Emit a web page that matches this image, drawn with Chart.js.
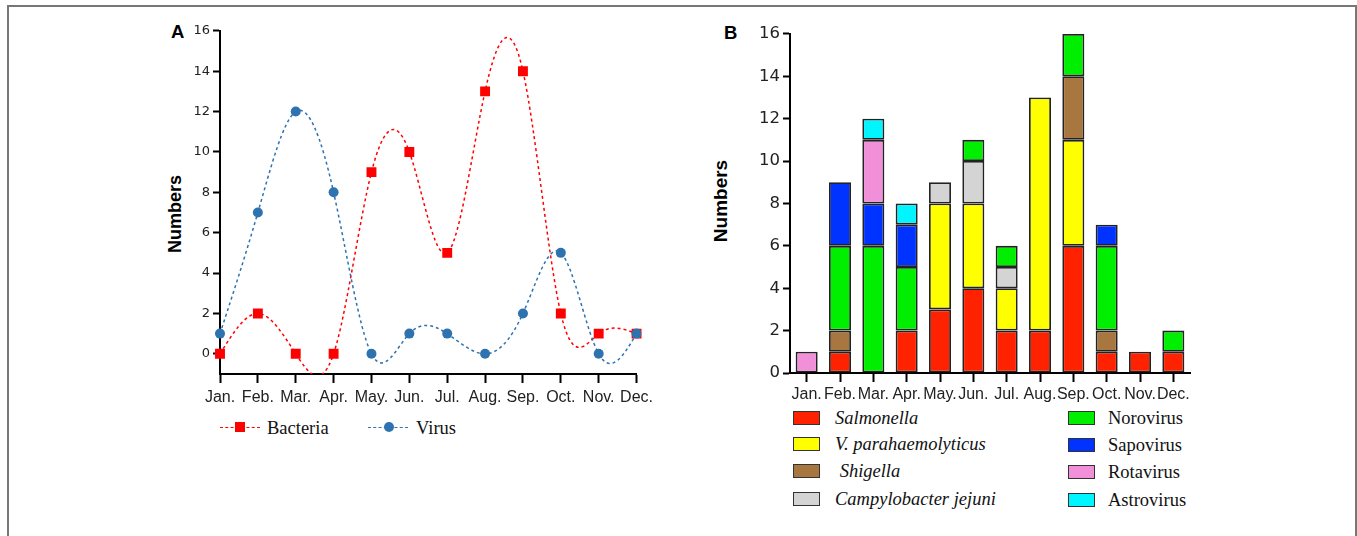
<!DOCTYPE html>
<html lang="en">
  <head>
    <meta charset="UTF-8" />
    <title>Monthly bacteria and virus numbers</title>
    <script src="https://cdn.jsdelivr.net/npm/chart.js"></script>
    <style>
      body { margin: 0; width: 1357px; height: 536px; overflow: hidden; background: #fff; position: relative; font-family: 'Liberation Sans', Arial, sans-serif; }
      .frame { position: absolute; left: 7px; top: 5px; width: 1346px; height: 540px; border: 2px solid #777; }
      .box { position: absolute; }
      .panel { position: absolute; font-weight: bold; color: #000; line-height: 1; }
      .ytitle { position: absolute; font-weight: bold; white-space: nowrap; transform: translate(-50%, -50%) rotate(-90deg); line-height: 1; }
      .leg { position: absolute; font-family: 'Liberation Serif', 'Times New Roman', serif; font-size: 18.5px; line-height: 1; white-space: nowrap; transform: translateY(-50%); color: #111; }
      .sw { position: absolute; width: 25px; height: 12px; border: 1.5px solid #333; transform: translateY(-50%); }
      .dash { position: absolute; width: 40px; border-top: 1.5px dashed; }
    </style>
  </head>

  <body>
    <div class="frame"></div>

    <div class="panel" style="left: 171px; top: 23px; font-size: 18.5px">A</div>
    <div class="panel" style="left: 724px; top: 24px; font-size: 18.5px">B</div>
    <div class="ytitle" style="left: 175px; top: 214px; font-size: 18px">Numbers</div>
    <div class="ytitle" style="left: 720px; top: 201px; font-size: 19px">Numbers</div>

    <div class="box" style="left: 150px; top: 20px; width: 508px; height: 394px">
      <canvas id="lineChart"></canvas>
    </div>
    <div class="box" style="left: 700px; top: 21px; width: 510px; height: 382px">
      <canvas id="barChart"></canvas>
    </div>

    <!-- legend A -->
    <div class="dash" style="left: 220px; top: 427px; border-color: #ff0000"></div>
    <div class="box" style="left: 235px; top: 422px; width: 10px; height: 10px; background: #ff0000"></div>
    <div class="leg" style="left: 267px; top: 428px">Bacteria</div>
    <div class="dash" style="left: 368px; top: 427px; border-color: #2e72b0"></div>
    <div class="box" style="left: 384px; top: 422px; width: 10px; height: 10px; border-radius: 50%; background: #2e72b0"></div>
    <div class="leg" style="left: 416px; top: 428px">Virus</div>

    <!-- legend B -->
    <div id="legendB"></div>

    <script>
      const months = ['Jan.', 'Feb.', 'Mar.', 'Apr.', 'May.', 'Jun.', 'Jul.', 'Aug.', 'Sep.', 'Oct.', 'Nov.', 'Dec.'];

      // panel A
      const bacteria = [0, 2, 0, 0, 9, 10, 5, 13, 14, 2, 1, 1];
      const virus = [1, 7, 12, 8, 0, 1, 1, 0, 2, 5, 0, 1];
      const yTicksA = [0, 2, 4, 6, 8, 10, 12, 14, 16];

      // panel B
      const salmonella = [0, 1, 0, 2, 3, 4, 2, 2, 6, 1, 1, 1];
      const vParahaemolyticus = [0, 0, 0, 0, 5, 4, 2, 11, 5, 0, 0, 0];
      const shigella = [0, 1, 0, 0, 0, 0, 0, 0, 3, 1, 0, 0];
      const campylobacter = [0, 0, 0, 0, 1, 2, 1, 0, 0, 0, 0, 0];
      const norovirus = [0, 4, 6, 3, 0, 1, 1, 0, 2, 4, 0, 1];
      const sapovirus = [0, 3, 2, 2, 0, 0, 0, 0, 0, 1, 0, 0];
      const rotavirus = [1, 0, 3, 0, 0, 0, 0, 0, 0, 0, 0, 0];
      const astrovirus = [0, 0, 1, 1, 0, 0, 0, 0, 0, 0, 0, 0];

      const seriesB = [
        { name: 'Salmonella', data: salmonella, color: '#ff2200', italic: true },
        { name: 'V. parahaemolyticus', data: vParahaemolyticus, color: '#ffff00', italic: true },
        { name: '\u00a0Shigella', data: shigella, color: '#a8773f', italic: true },
        { name: 'Campylobacter jejuni', data: campylobacter, color: '#d4d4d4', italic: true },
        { name: 'Norovirus', data: norovirus, color: '#00ee00' },
        { name: 'Sapovirus', data: sapovirus, color: '#0033ff' },
        { name: 'Rotavirus', data: rotavirus, color: '#f190d8' },
        { name: 'Astrovirus', data: astrovirus, color: '#00f5ff' },
      ];

      // slopes of a natural cubic spline through evenly spaced values
      function splineSlopes(ys) {
        const n = ys.length;
        const M = new Array(n).fill(0);
        const c = new Array(n).fill(0);
        const d = new Array(n).fill(0);
        for (let i = 1; i < n - 1; i++) {
          const r = 6 * (ys[i + 1] - 2 * ys[i] + ys[i - 1]);
          const den = 4 - (i > 1 ? c[i - 1] : 0);
          c[i] = 1 / den;
          d[i] = (r - (i > 1 ? d[i - 1] : 0)) / den;
        }
        for (let i = n - 2; i >= 1; i--) M[i] = d[i] - c[i] * M[i + 1];
        return ys.map((y, i) =>
          i < n - 1
            ? ys[i + 1] - y - (2 * M[i] + M[i + 1]) / 6
            : y - ys[i - 1] + (M[i - 1] + 2 * M[i]) / 6
        );
      }

      const splinePlugin = {
        id: 'spline',
        beforeDatasetsDraw(chart) {
          const { ctx, chartArea: a } = chart;
          const xs = chart.scales.x;
          const ys = chart.scales.y;
          ctx.save();
          ctx.beginPath();
          ctx.rect(a.left, a.top, a.right - a.left, a.bottom - a.top);
          ctx.clip();
          chart.data.datasets.forEach((ds) => {
            const v = ds.data;
            const m = splineSlopes(v);
            ctx.beginPath();
            ctx.moveTo(xs.getPixelForValue(0), ys.getPixelForValue(v[0]));
            for (let i = 0; i < v.length - 1; i++) {
              const x0 = xs.getPixelForValue(i);
              const x1 = xs.getPixelForValue(i + 1);
              ctx.bezierCurveTo(
                x0 + (x1 - x0) / 3, ys.getPixelForValue(v[i] + m[i] / 3),
                x0 + (2 * (x1 - x0)) / 3, ys.getPixelForValue(v[i + 1] - m[i + 1] / 3),
                x1, ys.getPixelForValue(v[i + 1])
              );
            }
            ctx.setLineDash([3, 3]);
            ctx.lineWidth = 1.5;
            ctx.strokeStyle = ds.borderColor;
            ctx.stroke();
          });
          ctx.restore();
        },
      };

      const axisGrid = (len) => ({
        display: true,
        drawOnChartArea: false,
        drawTicks: true,
        tickLength: len,
        tickWidth: 2,
        tickColor: '#000',
        offset: false,
      });
      const axisBorder = { color: '#000', width: 2 };

      new Chart(document.getElementById('lineChart'), {
        type: 'line',
        plugins: [splinePlugin],
        data: {
          labels: months,
          datasets: [
            {
              label: 'Bacteria',
              data: bacteria,
              showLine: false,
              borderColor: '#ff0000',
              backgroundColor: '#ff0000',
              pointStyle: 'rect',
              pointRadius: 7,
              pointBorderWidth: 0,
              order: 1,
            },
            {
              label: 'Virus',
              data: virus,
              showLine: false,
              borderColor: '#2e72b0',
              backgroundColor: '#2e72b0',
              pointStyle: 'circle',
              pointRadius: 5,
              pointBorderWidth: 0,
              order: 0,
            },
          ],
        },
        options: {
          responsive: true,
          maintainAspectRatio: false,
          animation: false,
          events: [],
          layout: { padding: { top: 10, right: 20, bottom: 0, left: 0 } },
          plugins: { legend: { display: false }, tooltip: { enabled: false } },
          scales: {
            x: {
              offset: false,
              grid: axisGrid(9),
              border: axisBorder,
              ticks: {
                autoSkip: false,
                maxRotation: 0,
                padding: 5,
                color: '#222',
                font: { family: "'Liberation Sans', Arial", size: 16 },
              },
              afterFit: (s) => { s.height = 40; },
            },
            y: {
              min: -1,
              max: 16,
              grid: axisGrid(7),
              border: axisBorder,
              afterBuildTicks: (s) => { s.ticks = yTicksA.map((v) => ({ value: v })); },
              ticks: {
                padding: 3,
                color: '#222',
                font: { family: "'DejaVu Sans'", size: 13 },
              },
              afterFit: (s) => { s.width = 70; },
            },
          },
        },
      });

      new Chart(document.getElementById('barChart'), {
        type: 'bar',
        data: {
          labels: months,
          datasets: seriesB.map((s) => ({
            label: s.name,
            data: s.data.map((v) => (v === 0 ? null : v)),
            backgroundColor: s.color,
            borderColor: '#222',
            borderWidth: 1.8,
            borderSkipped: false,
            barPercentage: 0.66,
            categoryPercentage: 1,
          })),
        },
        options: {
          responsive: true,
          maintainAspectRatio: false,
          animation: false,
          events: [],
          layout: { padding: { top: 10, right: 20, bottom: 0, left: 0 } },
          plugins: { legend: { display: false }, tooltip: { enabled: false } },
          scales: {
            x: {
              stacked: true,
              grid: axisGrid(9),
              border: axisBorder,
              ticks: {
                autoSkip: false,
                maxRotation: 0,
                padding: 3,
                color: '#222',
                font: { family: "'Liberation Sans', Arial", size: 16 },
              },
              afterFit: (s) => { s.height = 30; },
            },
            y: {
              stacked: true,
              min: 0,
              max: 16,
              grid: axisGrid(7),
              border: axisBorder,
              ticks: {
                stepSize: 2,
                padding: 3,
                color: '#222',
                font: { family: "'DejaVu Sans'", size: 16.5 },
              },
              afterFit: (s) => { s.width = 90; },
            },
          },
        },
      });

      // legend B, two columns of four
      const legendB = document.getElementById('legendB');
      const rowsY = [[418, 444, 471, 499], [418, 445, 472, 500]];
      seriesB.forEach((s, i) => {
        const col = Math.floor(i / 4);
        const y = rowsY[col][i % 4];
        const sx = col ? 1068 : 793;
        const tx = col ? 1108 : 835;
        const sw = document.createElement('div');
        sw.className = 'sw';
        sw.style.left = sx + 'px';
        sw.style.top = y + 'px';
        sw.style.background = s.color;
        legendB.appendChild(sw);
        const t = document.createElement('div');
        t.className = 'leg';
        t.style.left = tx + 'px';
        t.style.top = y + 'px';
        if (s.italic) t.style.fontStyle = 'italic';
        t.textContent = s.name;
        legendB.appendChild(t);
      });
    </script>
  </body>
</html>
